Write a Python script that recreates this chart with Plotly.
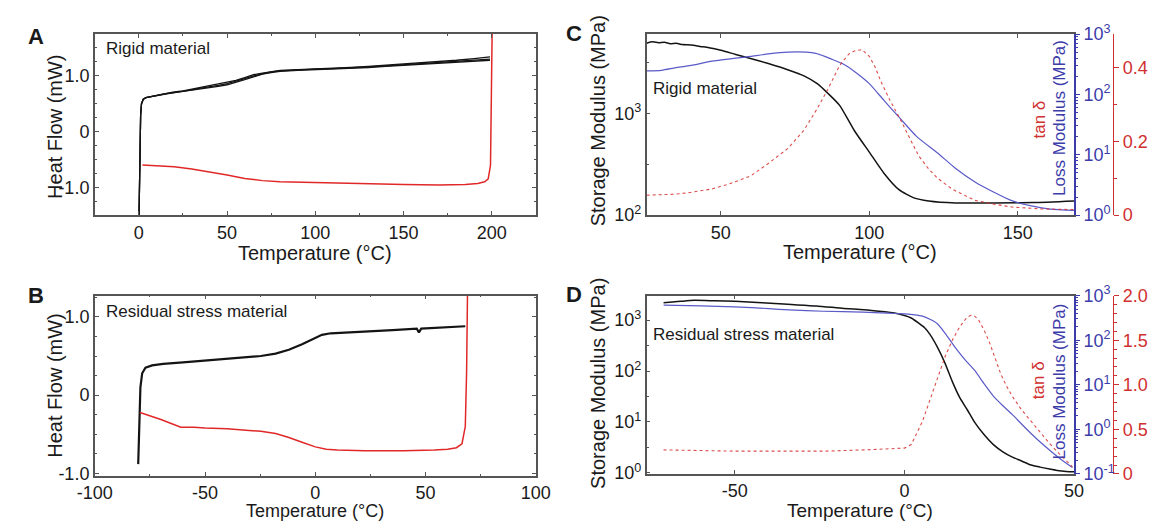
import plotly.graph_objects as go

# ---------------- Panel A : DSC, rigid material ----------------
A_T_HEAT = [0.0, 0.3, 0.6, 1.0, 1.5, 2.5, 4, 7, 10, 15, 20, 25, 30, 35, 40, 45, 50, 55, 60,
            65, 70, 75, 80, 90, 100, 110, 120, 130, 140, 150, 160, 170, 180, 190, 199]
A_HF_HEAT_1 = [-1.7, -1.0, -0.2, 0.3, 0.5, 0.58, 0.61, 0.63, 0.65, 0.68, 0.70, 0.72, 0.75, 0.78,
               0.80, 0.83, 0.86, 0.90, 0.95, 1.00, 1.04, 1.07, 1.09, 1.11, 1.12, 1.13, 1.14, 1.16,
               1.18, 1.20, 1.22, 1.24, 1.26, 1.28, 1.30]
A_HF_HEAT_2 = [-1.7, -1.0, -0.2, 0.3, 0.5, 0.58, 0.61, 0.63, 0.65, 0.68, 0.71, 0.73, 0.76, 0.79,
               0.82, 0.85, 0.88, 0.92, 0.97, 1.02, 1.05, 1.08, 1.10, 1.11, 1.12, 1.13, 1.15, 1.17,
               1.19, 1.21, 1.24, 1.26, 1.28, 1.31, 1.34]
A_HF_HEAT_3 = [-1.7, -1.0, -0.2, 0.3, 0.5, 0.58, 0.61, 0.63, 0.65, 0.67, 0.70, 0.72, 0.74, 0.77,
               0.79, 0.81, 0.84, 0.88, 0.93, 0.98, 1.03, 1.06, 1.08, 1.10, 1.11, 1.12, 1.14, 1.15,
               1.17, 1.19, 1.21, 1.23, 1.25, 1.27, 1.28]
A_T_COOL = [2, 10, 20, 30, 40, 50, 60, 70, 80, 100, 125, 150, 170, 185, 192, 196, 198, 199.3,
            199.8, 200.1, 200.3]
A_HF_COOL = [-0.60, -0.61, -0.63, -0.67, -0.72, -0.78, -0.84, -0.88, -0.90, -0.91, -0.93, -0.95,
             -0.96, -0.95, -0.93, -0.90, -0.85, -0.60, 0.50, 1.50, 2.00]

# ---------------- Panel B : DSC, residual stress material ----------------
B_T_HEAT = [-80.3, -79.8, -79.3, -78.5, -77, -74, -69, -60, -50, -40, -30, -24.7, -18, -12, -6,
            -2, 0, 3, 7, 15, 22.5, 35, 46, 47, 48, 55, 68]
B_HF_HEAT = [-0.88, -0.40, 0.10, 0.28, 0.35, 0.38, 0.40, 0.42, 0.44, 0.46, 0.48, 0.50, 0.53,
             0.58, 0.65, 0.70, 0.73, 0.77, 0.79, 0.80, 0.81, 0.83, 0.85, 0.80, 0.85, 0.86, 0.88]
B_T_COOL = [-79.5, -70, -61, -55, -50, -40, -30, -24.7, -18, -12, -6, 0, 5, 10, 22.5, 40, 54,
            60, 64, 66.5, 68, 68.6, 69]
B_HF_COOL = [-0.22, -0.31, -0.41, -0.41, -0.42, -0.43, -0.45, -0.46, -0.49, -0.54, -0.60, -0.66,
             -0.69, -0.70, -0.71, -0.71, -0.70, -0.69, -0.67, -0.62, -0.40, 0.30, 1.30]

# ---------------- Panel C : DMA, rigid material ----------------
C_T_STORAGE = [25, 27, 29, 31, 33, 35, 37, 40, 43, 46, 50, 55, 60, 66, 72.5, 78, 82.6, 86, 90,
               95, 100, 105, 110, 115, 120, 129, 142, 155, 169]
C_STORAGE = [4900, 5050, 4950, 5000, 4850, 4900, 4750, 4700, 4550, 4420, 4170, 3800, 3470, 3090,
             2690, 2340, 1950, 1580, 1200, 676, 417, 257, 178, 148, 138, 132, 132, 133, 138]
C_T_LOSS = [25, 30, 34.6, 40, 47, 55, 60, 66, 72.5, 78.8, 82, 85, 88, 91.4, 95, 100, 105, 110.4,
            116, 123, 129, 135.6, 142, 148, 155, 161, 169]
C_LOSS = [245, 251, 275, 302, 355, 398, 427, 468, 501, 501, 479, 427, 372, 316, 240, 151, 79, 40,
          20, 10.7, 6.0, 3.55, 2.40, 1.74, 1.41, 1.26, 1.20]
C_T_TAN = [25, 30, 35, 40, 47, 53, 60, 66, 72.5, 78, 82.6, 86, 90, 93, 95, 97.5, 100, 102, 104,
           107, 110.4, 113.5, 116.7, 120, 123, 128, 135.6, 142, 148, 158, 169]
C_TAN = [0.054, 0.055, 0.057, 0.062, 0.071, 0.085, 0.106, 0.14, 0.18, 0.23, 0.29, 0.34, 0.405,
         0.435, 0.444, 0.448, 0.43, 0.40, 0.36, 0.31, 0.26, 0.21, 0.16, 0.125, 0.10, 0.07, 0.04,
         0.03, 0.022, 0.017, 0.015]

# ---------------- Panel D : DMA, residual stress material ----------------
D_T_STORAGE = [-71, -66, -62, -56, -50, -42, -34.4, -26, -17.9, -12, -6.8, -3, 0, 2, 4.2, 6, 7.5,
               9.7, 11.9, 14.1, 16.3, 18.5, 20.7, 23.5, 26.2, 29, 31.8, 34.5, 37.3, 40, 42.8, 45,
               47.7, 50]
D_STORAGE = [2190, 2340, 2450, 2400, 2340, 2200, 2040, 1900, 1700, 1600, 1480, 1380, 1230, 1100,
             870, 700, 525, 295, 145, 62, 30, 17.4, 9.8, 5.6, 3.6, 2.6, 2.04, 1.72, 1.43, 1.30,
             1.19, 1.12, 1.07, 1.05]
D_T_LOSS = [-71, -60, -50, -40, -34, -24, -12.3, -5, 0, 3, 5.3, 7.5, 9.7, 12.5, 15.2, 18, 20.7,
            23.5, 26.2, 29, 31.8, 34.5, 37.3, 40, 42.8, 45.5, 48.3, 49.5]
D_LOSS = [617, 589, 562, 513, 479, 447, 427, 407, 389, 372, 347, 295, 234, 126, 65, 35.5, 21,
          10.5, 5.6, 3.4, 2.14, 1.32, 0.81, 0.52, 0.34, 0.23, 0.16, 0.14]
D_T_TAN = [-71, -60, -50, -35, -23, -12, -5, 0, 2, 3.5, 5.3, 7.5, 9.7, 12, 14.1, 15.8, 17.4,
           18.5, 19.6, 20.7, 21.8, 23.4, 25.1, 26.8, 28.4, 30, 31.8, 34.5, 37.3, 40, 42.8, 45.5,
           48.3, 49.5]
D_TAN = [0.27, 0.26, 0.256, 0.256, 0.256, 0.27, 0.28, 0.29, 0.33, 0.45, 0.59, 0.83, 1.08, 1.32,
         1.50, 1.62, 1.71, 1.76, 1.78, 1.77, 1.73, 1.62, 1.47, 1.30, 1.12, 0.99, 0.87, 0.72, 0.59,
         0.47, 0.34, 0.23, 0.12, 0.08]

# ---------------- styling ----------------
W, H = 1162, 529
FONT = "Liberation Sans, Arial, Helvetica, sans-serif"
FRAME = "#555555"
INK = "#1a1a1a"
BLACK = "#141414"
RED = "#e02828"
TAN_RED = "rgba(215,45,45,0.85)"
BLUE_LINE = "#5a5ac8"
BLUE_AX = "#3c3caa"
RED_AX = "#d03030"


def px_x(x):
    return x / W


def px_y(y):
    return 1 - y / H


def sup(n):
    return "10<sup>%d</sup>" % n


# plot-area pixel boxes
AB_X = [px_x(79), px_x(533)]
CD_X = [px_x(647), px_x(1087)]
A_Y = [px_y(212), px_y(23)]
B_Y = [px_y(484), px_y(296)]
C_Y = [px_y(212), px_y(23)]
D_Y = [px_y(482), px_y(296)]
RED_POS = px_x(1127)

fig = go.Figure()

# Panel A
for vals in (A_HF_HEAT_1, A_HF_HEAT_2, A_HF_HEAT_3):
    fig.add_trace(go.Scatter(x=A_T_HEAT, y=vals, mode="lines", xaxis="x", yaxis="y",
                             line=dict(color=BLACK, width=1.3), showlegend=False))
fig.add_trace(go.Scatter(x=A_T_COOL, y=A_HF_COOL, mode="lines", xaxis="x", yaxis="y",
                         line=dict(color=RED, width=1.5), showlegend=False))

# Panel B
fig.add_trace(go.Scatter(x=B_T_HEAT, y=B_HF_HEAT, mode="lines", xaxis="x2", yaxis="y2",
                         line=dict(color=BLACK, width=2.2), showlegend=False))
fig.add_trace(go.Scatter(x=B_T_COOL, y=B_HF_COOL, mode="lines", xaxis="x2", yaxis="y2",
                         line=dict(color=RED, width=1.5), showlegend=False))

# Panel C
fig.add_trace(go.Scatter(x=C_T_STORAGE, y=C_STORAGE, mode="lines", xaxis="x3", yaxis="y3",
                         line=dict(color=BLACK, width=1.5, shape="spline", smoothing=0.6),
                         showlegend=False))
fig.add_trace(go.Scatter(x=C_T_LOSS, y=C_LOSS, mode="lines", xaxis="x3", yaxis="y4",
                         line=dict(color=BLUE_LINE, width=1.2, shape="spline", smoothing=0.6),
                         showlegend=False))
fig.add_trace(go.Scatter(x=C_T_TAN, y=C_TAN, mode="lines", xaxis="x3", yaxis="y5",
                         line=dict(color=TAN_RED, width=1.1, dash="dot"), showlegend=False))

# Panel D
fig.add_trace(go.Scatter(x=D_T_STORAGE, y=D_STORAGE, mode="lines", xaxis="x4", yaxis="y6",
                         line=dict(color=BLACK, width=1.5, shape="spline", smoothing=0.6),
                         showlegend=False))
fig.add_trace(go.Scatter(x=D_T_LOSS, y=D_LOSS, mode="lines", xaxis="x4", yaxis="y7",
                         line=dict(color=BLUE_LINE, width=1.2, shape="spline", smoothing=0.6),
                         showlegend=False))
fig.add_trace(go.Scatter(x=D_T_TAN, y=D_TAN, mode="lines", xaxis="x4", yaxis="y8",
                         line=dict(color=TAN_RED, width=1.1, dash="dot"), showlegend=False))

TICKFONT = dict(family=FONT, size=18, color=INK)


def frame_axis(**kw):
    base = dict(showline=True, linecolor=FRAME, linewidth=1.5, mirror="ticks",
                ticks="inside", ticklen=4, tickwidth=1, tickcolor=FRAME,
                showgrid=False, zeroline=False, tickfont=TICKFONT, tickmode="array")
    base.update(kw)
    return base


LOG_MINOR = []
for k in range(-1, 4):
    for m in range(2, 10):
        LOG_MINOR.append(m * 10 ** k)

fig.update_layout(
    width=W, height=H, margin=dict(l=0, r=0, t=0, b=0),
    paper_bgcolor="white", plot_bgcolor="white",
    font=dict(family=FONT, color=INK),
    showlegend=False,
    # Panel A
    xaxis=frame_axis(domain=AB_X, anchor="y", range=[-25, 225],
                     tickvals=[0, 50, 100, 150, 200],
                     ticktext=["0", "50", "100", "150", "200"],
                     minor=dict(tickmode="linear", tick0=0, dtick=25, ticks="inside",
                                ticklen=2, tickcolor=FRAME)),
    yaxis=frame_axis(domain=A_Y, anchor="x", range=[-1.5, 1.75],
                     tickvals=[-1, 0, 1], ticktext=["-1.0", "0", "1.0"],
                     minor=dict(tickmode="linear", tick0=0, dtick=0.25, ticks="inside",
                                ticklen=2, tickcolor=FRAME)),
    # Panel B
    xaxis2=frame_axis(domain=AB_X, anchor="y2", range=[-100, 100],
                      tickvals=[-100, -50, 0, 50, 100],
                      ticktext=["-100", "-50", "0", "50", "100"],
                      minor=dict(tickmode="linear", tick0=0, dtick=25, ticks="inside",
                                 ticklen=2, tickcolor=FRAME)),
    yaxis2=frame_axis(domain=B_Y, anchor="x2", range=[-1.03, 1.27],
                      tickvals=[-1, 0, 1], ticktext=["-1.0", "0", "1.0"],
                      minor=dict(tickmode="linear", tick0=0, dtick=0.25, ticks="inside",
                                 ticklen=2, tickcolor=FRAME)),
    # Panel C
    xaxis3=frame_axis(domain=CD_X, anchor="y3", range=[25, 169],
                      tickvals=[50, 100, 150], ticktext=["50", "100", "150"]),
    yaxis3=frame_axis(domain=C_Y, anchor="x3", type="log", range=[2, 3.78], mirror=False,
                      tickvals=[100, 1000], ticktext=[sup(2), sup(3)],
                      minor=dict(tickvals=[316.2, 3162], ticks="inside", ticklen=3,
                                 tickcolor=FRAME)),
    yaxis4=dict(overlaying="y3", anchor="x3", side="right", type="log", range=[0, 3],
                showline=True, linecolor=BLUE_AX, linewidth=1.5, ticks="outside",
                ticklen=4, tickcolor=BLUE_AX, showgrid=False, zeroline=False,
                tickmode="array", tickvals=[1, 10, 100, 1000],
                ticktext=[sup(0), sup(1), sup(2), sup(3)],
                tickfont=dict(family=FONT, size=18, color=BLUE_AX),
                minor=dict(tickvals=LOG_MINOR, ticks="outside", ticklen=2,
                           tickcolor=BLUE_AX)),
    yaxis5=dict(overlaying="y3", anchor="free", position=RED_POS, side="right",
                range=[0, 0.49], showline=True, linecolor=RED_AX, linewidth=1.2,
                ticks="outside", ticklen=5, tickcolor=RED_AX, showgrid=False,
                zeroline=False, tickmode="array", tickvals=[0, 0.2, 0.4],
                ticktext=["0", "0.2", "0.4"],
                tickfont=dict(family=FONT, size=18, color=RED_AX),
                minor=dict(tickmode="linear", tick0=0, dtick=0.1, ticks="outside",
                           ticklen=3, tickcolor=RED_AX)),
    # Panel D
    xaxis4=frame_axis(domain=CD_X, anchor="y6", range=[-76, 50],
                      tickvals=[-50, 0, 50], ticktext=["-50", "0", "50"]),
    yaxis6=frame_axis(domain=D_Y, anchor="x4", type="log", range=[-0.02, 3.48], mirror=False,
                      tickvals=[1, 10, 100, 1000],
                      ticktext=[sup(0), sup(1), sup(2), sup(3)],
                      minor=dict(tickvals=[3.162, 31.62, 316.2, 3162], ticks="inside",
                                 ticklen=3, tickcolor=FRAME)),
    yaxis7=dict(overlaying="y6", anchor="x4", side="right", type="log", range=[-1, 3],
                showline=True, linecolor=BLUE_AX, linewidth=1.5, ticks="outside",
                ticklen=4, tickcolor=BLUE_AX, showgrid=False, zeroline=False,
                tickmode="array", tickvals=[0.1, 1, 10, 100, 1000],
                ticktext=[sup(-1), sup(0), sup(1), sup(2), sup(3)],
                tickfont=dict(family=FONT, size=18, color=BLUE_AX),
                minor=dict(tickvals=LOG_MINOR, ticks="outside", ticklen=2,
                           tickcolor=BLUE_AX)),
    yaxis8=dict(overlaying="y6", anchor="free", position=RED_POS, side="right",
                range=[0, 2.0], showline=True, linecolor=RED_AX, linewidth=1.2,
                ticks="outside", ticklen=5, tickcolor=RED_AX, showgrid=False,
                zeroline=False, tickmode="array", tickvals=[0, 0.5, 1.0, 1.5, 2.0],
                ticktext=["0", "0.5", "1.0", "1.5", "2.0"],
                tickfont=dict(family=FONT, size=18, color=RED_AX),
                minor=dict(tickmode="linear", tick0=0, dtick=0.1, ticks="outside",
                           ticklen=3, tickcolor=RED_AX)),
)


def note(text, x, y, size=18, color=INK, angle=0, xanchor="center", yanchor="middle",
         bold=False):
    if bold:
        text = "<b>%s</b>" % text
    fig.add_annotation(text=text, x=px_x(x), y=px_y(y), xref="paper", yref="paper",
                       showarrow=False, textangle=angle, xanchor=xanchor, yanchor=yanchor,
                       font=dict(family=FONT, size=size, color=color))


# panel letters
note("A", 19, 26, size=22, bold=True)
note("B", 19, 296, size=22, bold=True)
note("C", 572, 22, size=22, bold=True)
note("D", 572, 295, size=22, bold=True)

# axis titles
note("Heat Flow (mW)", 38, 120, size=20, angle=-90)
note("Heat Flow (mW)", 38, 390, size=20, angle=-90)
note("Temperature (°C)", 306, 251, size=20)
note("Temperature (°C)", 306, 521, size=18)
note("Temperature (°C)", 867, 250, size=20)
note("Temperature (°C)", 867, 520, size=19)
note("Storage Modulus (MPa)", 597, 114, size=20, angle=-90)
note("Storage Modulus (MPa)", 597, 388, size=20, angle=-90)
note("Loss Modulus (MPa)", 1072, 111, size=17, color=BLUE_AX, angle=-90)
note("Loss Modulus (MPa)", 1072, 386, size=17, color=BLUE_AX, angle=-90)
note("tan δ", 1051, 112, size=17, color=RED_AX, angle=-90)
note("tan δ", 1050, 384, size=17, color=RED_AX, angle=-90)

# material labels
note("Rigid material", 88, 38, size=17, xanchor="left")
note("Residual stress material", 88, 312, size=17, xanchor="left")
note("Rigid material", 651, 80, size=17, xanchor="left")
note("Residual stress material", 652, 337, size=17, xanchor="left")

fig.write_html("out.html")
